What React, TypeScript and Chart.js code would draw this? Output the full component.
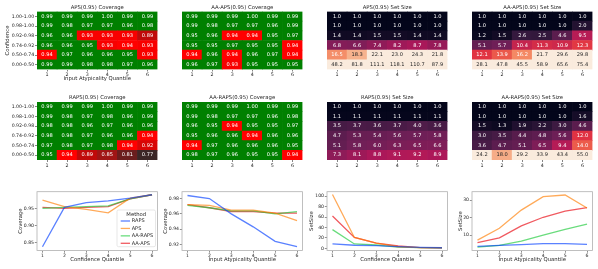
import React, { useEffect, useRef } from 'react';
import { Chart, registerables } from 'chart.js';

Chart.register(...registerables);

const CANVAS_W = 598;
const CANVAS_H = 269;
const FONT_FAMILY = "'DejaVu Sans', 'Liberation Sans', sans-serif";
const TEXT_DARK = '#262626';

// ---------------- data ----------------
const QUANTILE_LABELS = ['1', '2', '3', '4', '5', '6'];
const QUANTILES = [1, 2, 3, 4, 5, 6];
const CONFIDENCE_BINS = ['1.00-1.00', '0.98-1.00', '0.92-0.98', '0.74-0.92', '0.50-0.74', '0.00-0.50'];

// heatmaps: rows listed top to bottom (confidence bins), columns = atypicality quantile 1..6
const APS_COVERAGE = [
  [0.99, 0.99, 0.99, 1.0, 0.99, 0.99],
  [0.99, 0.98, 0.97, 0.97, 0.96, 0.98],
  [0.96, 0.96, 0.93, 0.93, 0.93, 0.89],
  [0.96, 0.96, 0.95, 0.93, 0.94, 0.93],
  [0.94, 0.97, 0.96, 0.96, 0.95, 0.93],
  [0.99, 0.99, 0.98, 0.98, 0.97, 0.96],
];
const AA_APS_COVERAGE = [
  [0.99, 0.99, 0.99, 1.0, 0.99, 0.99],
  [0.99, 0.98, 0.97, 0.97, 0.96, 0.99],
  [0.95, 0.96, 0.94, 0.94, 0.95, 0.97],
  [0.95, 0.95, 0.97, 0.95, 0.95, 0.94],
  [0.94, 0.96, 0.94, 0.96, 0.97, 0.94],
  [0.96, 0.97, 0.93, 0.95, 0.95, 0.95],
];
const APS_SET_SIZE = [
  [1.0, 1.0, 1.0, 1.0, 1.0, 1.0],
  [1.0, 1.0, 1.0, 1.0, 1.0, 1.0],
  [1.4, 1.4, 1.5, 1.5, 1.4, 1.4],
  [6.8, 6.6, 7.4, 8.2, 8.7, 7.8],
  [16.5, 18.3, 22.1, 23.0, 24.3, 21.8],
  [48.2, 81.8, 111.1, 118.1, 110.7, 87.9],
];
const AA_APS_SET_SIZE = [
  [1.0, 1.0, 1.0, 1.0, 1.0, 1.0],
  [1.0, 1.0, 1.0, 1.0, 1.0, 2.0],
  [1.2, 1.5, 2.6, 2.5, 4.6, 9.5],
  [5.1, 5.7, 10.4, 11.3, 10.9, 12.3],
  [12.1, 13.9, 16.2, 21.7, 29.6, 29.8],
  [28.1, 47.8, 45.5, 58.9, 65.6, 75.4],
];
const RAPS_COVERAGE = [
  [0.99, 0.99, 0.99, 1.0, 0.99, 0.99],
  [0.99, 0.98, 0.97, 0.98, 0.96, 0.99],
  [0.98, 0.98, 0.96, 0.97, 0.96, 0.96],
  [0.98, 0.98, 0.97, 0.96, 0.96, 0.94],
  [0.97, 0.98, 0.97, 0.98, 0.94, 0.92],
  [0.95, 0.94, 0.89, 0.85, 0.81, 0.77],
];
const AA_RAPS_COVERAGE = [
  [0.99, 0.99, 0.99, 1.0, 0.99, 0.99],
  [0.99, 0.98, 0.97, 0.97, 0.96, 0.98],
  [0.96, 0.95, 0.94, 0.95, 0.95, 0.97],
  [0.95, 0.96, 0.96, 0.94, 0.96, 0.96],
  [0.94, 0.97, 0.96, 0.96, 0.96, 0.95],
  [0.98, 0.97, 0.96, 0.95, 0.95, 0.94],
];
const RAPS_SET_SIZE = [
  [1.0, 1.0, 1.0, 1.0, 1.0, 1.0],
  [1.1, 1.1, 1.1, 1.1, 1.1, 1.1],
  [3.5, 3.7, 3.6, 3.7, 4.0, 3.6],
  [4.7, 5.3, 5.4, 5.6, 5.7, 5.8],
  [5.1, 5.8, 6.0, 6.3, 6.5, 6.6],
  [7.3, 8.1, 8.8, 9.1, 9.2, 8.9],
];
const AA_RAPS_SET_SIZE = [
  [1.0, 1.0, 1.0, 1.0, 1.0, 1.0],
  [1.0, 1.0, 1.0, 1.0, 1.0, 1.6],
  [1.5, 1.3, 1.9, 2.2, 3.0, 4.6],
  [3.0, 3.5, 4.4, 4.8, 5.6, 12.0],
  [3.6, 4.7, 5.1, 6.5, 9.4, 14.0],
  [24.2, 18.0, 29.2, 33.9, 43.4, 55.0],
];

// line plots (x = quantile 1..6)
const METHODS = ['RAPS', 'APS', 'AA-RAPS', 'AA-APS'];
const METHOD_COLORS = ['rgba(2,62,255,0.65)', 'rgba(255,124,0,0.65)', 'rgba(26,201,56,0.65)', 'rgba(232,0,11,0.65)'];

const COV_CONF_RAPS = [0.837, 0.953, 0.967, 0.972, 0.98, 0.99];
const COV_CONF_APS = [0.974, 0.955, 0.947, 0.937, 0.98, 0.99];
const COV_CONF_AA_RAPS = [0.95, 0.953, 0.955, 0.957, 0.978, 0.99];
const COV_CONF_AA_APS = [0.953, 0.95, 0.953, 0.955, 0.978, 0.99];

const COV_ATYP_RAPS = [0.984, 0.98, 0.96, 0.943, 0.924, 0.917];
const COV_ATYP_APS = [0.972, 0.971, 0.965, 0.965, 0.961, 0.951];
const COV_ATYP_AA_RAPS = [0.971, 0.968, 0.964, 0.964, 0.96, 0.963];
const COV_ATYP_AA_APS = [0.972, 0.968, 0.963, 0.963, 0.961, 0.961];

const SIZE_CONF_RAPS = [8.5, 6.0, 5.2, 3.3, 2.0, 1.3];
const SIZE_CONF_APS = [103, 21, 10, 3.2, 1.4, 1.3];
const SIZE_CONF_AA_RAPS = [36, 8.5, 6.5, 2.6, 1.5, 1.3];
const SIZE_CONF_AA_APS = [62, 21, 10, 4.6, 1.5, 1.3];

const SIZE_ATYP_RAPS = [3.5, 4.1, 4.5, 5.1, 5.1, 4.7];
const SIZE_ATYP_APS = [7.1, 13.9, 24.3, 32.0, 32.9, 25.5];
const SIZE_ATYP_AA_RAPS = [3.1, 4.1, 6.5, 10.0, 13.3, 16.3];
const SIZE_ATYP_AA_APS = [5.7, 8.4, 15.3, 20.2, 23.7, 25.7];

// ---------------- layout ----------------
const COL_LEFT = [37, 182, 327, 472];
const PANEL_W = 120.5;
const HEAT_TOP = [11.5, 102];
const HEAT_H = 58;
const LINE_TOP = 191.7;
const LINE_BOTTOM = 250.5;

// ---------------- colours ----------------
function hexToRgb(h: string) {
  return [1, 3, 5].map((i) => parseInt(h.slice(i, i + 2), 16));
}
function rgbToHex(c: number[]) {
  return '#' + c.map((v) => Math.round(Math.max(0, Math.min(255, v))).toString(16).padStart(2, '0')).join('');
}
function interpStops(stops: [number, string][], t: number) {
  if (t <= stops[0][0]) return stops[0][1];
  for (let i = 1; i < stops.length; i++) {
    if (t <= stops[i][0]) {
      const [t0, c0] = stops[i - 1];
      const [t1, c1] = stops[i];
      const f = (t - t0) / (t1 - t0);
      const a = hexToRgb(c0), b = hexToRgb(c1);
      return rgbToHex(a.map((v, k) => v + (b[k] - v) * f));
    }
  }
  return stops[stops.length - 1][1];
}
const ROCKET: [number, string][] = [
  [0.0, '#03051a'],
  [0.083, '#35193e'],
  [0.25, '#701f57'],
  [0.417, '#ad1759'],
  [0.583, '#e13342'],
  [0.75, '#f37651'],
  [0.917, '#f6b48f'],
  [1.0, '#faebdd'],
];
const RED_SCALE: [number, string][] = [
  [0.77, '#3b2626'],
  [0.81, '#6b1d1d'],
  [0.85, '#a01515'],
  [0.89, '#c00a0a'],
  [0.92, '#d80606'],
  [0.93, '#f80000'],
  [0.94, '#ff0000'],
];
function coverageColor(v: number) {
  if (v >= 0.95) return '#008000';
  return interpStops(RED_SCALE, v);
}
function sizeColor(v: number) {
  const t = Math.max(0, Math.min(1, (v - 1) / (20 - 1)));
  return interpStops(ROCKET, t);
}
function relLum(hex: string) {
  const c = hexToRgb(hex).map((v) => v / 255).map((v) => (v <= 0.03928 ? v / 12.92 : Math.pow((v + 0.055) / 1.055, 2.4)));
  return 0.2126 * c[0] + 0.7152 * c[1] + 0.0722 * c[2];
}

// ---------------- plugins ----------------
function panelTitlePlugin(text: string, size: number, offset: number) {
  return {
    id: 'panelTitle',
    afterDraw(chart: any) {
      const { ctx, chartArea } = chart;
      ctx.save();
      ctx.font = `${size}px ${FONT_FAMILY}`;
      ctx.fillStyle = TEXT_DARK;
      ctx.textAlign = 'center';
      ctx.textBaseline = 'middle';
      ctx.fillText(text, (chartArea.left + chartArea.right) / 2, chartArea.top - offset);
      ctx.restore();
    },
  };
}
function cellTextPlugin(size: number) {
  return {
    id: 'cellText',
    afterDatasetsDraw(chart: any) {
      const ctx = chart.ctx;
      ctx.save();
      ctx.font = `${size}px ${FONT_FAMILY}`;
      ctx.textAlign = 'center';
      ctx.textBaseline = 'middle';
      chart.data.datasets.forEach((ds: any, i: number) => {
        const meta = chart.getDatasetMeta(i);
        meta.data.forEach((bar: any, j: number) => {
          const p = bar.getProps(['x', 'y', 'base'], true);
          ctx.fillStyle = ds.textColors[j];
          ctx.fillText(ds.cellText[j], p.x, (p.y + p.base) / 2);
        });
      });
      ctx.restore();
    },
  };
}
const framePlugin = {
  id: 'frame',
  afterDatasetsDraw(chart: any) {
    const { ctx, chartArea: a } = chart;
    ctx.save();
    ctx.strokeStyle = '#b0b0b0';
    ctx.lineWidth = 0.8;
    ctx.strokeRect(a.left, a.top, a.right - a.left, a.bottom - a.top);
    ctx.restore();
  },
};
function methodLegendPlugin() {
  return {
    id: 'methodLegend',
    afterDraw(chart: any) {
      const { ctx, chartArea } = chart;
      const boxW = 38.5, boxH = 36.7;
      const right = chartArea.right - 2;
      const bottom = chartArea.bottom - 3.8;
      const left = right - boxW, top = bottom - boxH;
      ctx.save();
      ctx.beginPath();
      if ((ctx as any).roundRect) (ctx as any).roundRect(left, top, boxW, boxH, 1.5);
      else ctx.rect(left, top, boxW, boxH);
      ctx.fillStyle = 'rgba(255,255,255,0.85)';
      ctx.fill();
      ctx.strokeStyle = '#d6d6d6';
      ctx.lineWidth = 0.6;
      ctx.stroke();
      ctx.fillStyle = TEXT_DARK;
      ctx.font = `5.3px ${FONT_FAMILY}`;
      ctx.textAlign = 'center';
      ctx.textBaseline = 'middle';
      ctx.fillText('Method', left + boxW / 2, top + 4.3);
      ctx.textAlign = 'left';
      ctx.font = `5px ${FONT_FAMILY}`;
      chart.data.datasets.forEach((ds: any, i: number) => {
        const y = top + 11 + i * 7.43;
        ctx.strokeStyle = ds.borderColor;
        ctx.lineWidth = 1.3;
        ctx.beginPath();
        ctx.moveTo(left + 3.7, y);
        ctx.lineTo(left + 13, y);
        ctx.stroke();
        ctx.fillStyle = TEXT_DARK;
        ctx.fillText(ds.label, left + 14.7, y);
      });
      ctx.restore();
    },
  };
}

// ---------------- chart specs ----------------
type HeatSpec = { title: string; values: number[][]; kind: 'cov' | 'size'; col: number; row: number };
const HEATMAPS: HeatSpec[] = [
  { title: 'APS(0.95) Coverage', values: APS_COVERAGE, kind: 'cov', col: 0, row: 0 },
  { title: 'AA-APS(0.95) Coverage', values: AA_APS_COVERAGE, kind: 'cov', col: 1, row: 0 },
  { title: 'APS(0.95) Set Size', values: APS_SET_SIZE, kind: 'size', col: 2, row: 0 },
  { title: 'AA-APS(0.95) Set Size', values: AA_APS_SET_SIZE, kind: 'size', col: 3, row: 0 },
  { title: 'RAPS(0.95) Coverage', values: RAPS_COVERAGE, kind: 'cov', col: 0, row: 1 },
  { title: 'AA-RAPS(0.95) Coverage', values: AA_RAPS_COVERAGE, kind: 'cov', col: 1, row: 1 },
  { title: 'RAPS(0.95) Set Size', values: RAPS_SET_SIZE, kind: 'size', col: 2, row: 1 },
  { title: 'AA-RAPS(0.95) Set Size', values: AA_RAPS_SET_SIZE, kind: 'size', col: 3, row: 1 },
];

type LineSpec = {
  col: number; xTitle: string; yTitle: string; yMin: number; yMax: number; yTicks: number[];
  decimals: number; yTitlePad: number; legend: boolean; series: number[][];
};
const LINE_PLOTS: LineSpec[] = [
  { col: 0, xTitle: 'Confidence Quantile', yTitle: 'Coverage', yMin: 0.826, yMax: 0.999, yTicks: [0.85, 0.9, 0.95], decimals: 2, yTitlePad: 2, legend: true,
    series: [COV_CONF_RAPS, COV_CONF_APS, COV_CONF_AA_RAPS, COV_CONF_AA_APS] },
  { col: 1, xTitle: 'Input Atypicality Quantile', yTitle: 'Coverage', yMin: 0.912, yMax: 0.989, yTicks: [0.92, 0.94, 0.96, 0.98], decimals: 2, yTitlePad: 2, legend: false,
    series: [COV_ATYP_RAPS, COV_ATYP_APS, COV_ATYP_AA_RAPS, COV_ATYP_AA_APS] },
  { col: 2, xTitle: 'Confidence Quantile', yTitle: 'SetSize', yMin: -4, yMax: 108.5, yTicks: [0, 20, 40, 60, 80, 100], decimals: 0, yTitlePad: 3.8, legend: false,
    series: [SIZE_CONF_RAPS, SIZE_CONF_APS, SIZE_CONF_AA_RAPS, SIZE_CONF_AA_APS] },
  { col: 3, xTitle: 'Input Atypicality Quantile', yTitle: 'SetSize', yMin: 1.2, yMax: 34.8, yTicks: [10, 20, 30], decimals: 0, yTitlePad: 7, legend: false,
    series: [SIZE_ATYP_RAPS, SIZE_ATYP_APS, SIZE_ATYP_AA_RAPS, SIZE_ATYP_AA_APS] },
];

const tickFont = (size: number) => ({ family: FONT_FAMILY, size });

function makeHeatmapConfig(spec: HeatSpec): any {
  const L = COL_LEFT[spec.col];
  const T = HEAT_TOP[spec.row];
  const showY = spec.col === 0;
  const showYTitle = spec.col === 0 && spec.row === 0;
  const showXTitle = spec.col === 0 && spec.row === 0;
  const Y_W = showY ? 35 : 0;
  const X_H = 13;
  const rowsBottomUp = spec.values.slice().reverse();
  const datasets = rowsBottomUp.map((rowVals) => {
    const colors = rowVals.map((v) => (spec.kind === 'cov' ? coverageColor(v) : sizeColor(v)));
    return {
      data: rowVals.map(() => 1),
      backgroundColor: colors,
      borderWidth: 0,
      barPercentage: 1,
      categoryPercentage: 1,
      cellText: rowVals.map((v) => (spec.kind === 'cov' ? v.toFixed(2) : v.toFixed(1))),
      textColors: colors.map((c) => (relLum(c) > 0.408 ? TEXT_DARK : '#ffffff')),
    };
  });
  return {
    type: 'bar',
    data: { labels: QUANTILE_LABELS, datasets },
    options: {
      responsive: false,
      animation: false,
      events: [],
      layout: {
        padding: {
          left: L - Y_W,
          right: CANVAS_W - (L + PANEL_W),
          top: T,
          bottom: CANVAS_H - (T + HEAT_H) - X_H,
        },
      },
      plugins: { legend: { display: false }, tooltip: { enabled: false }, title: { display: false } },
      scales: {
        x: {
          stacked: true,
          grid: { display: true, offset: false, drawOnChartArea: false, drawTicks: true, tickLength: 2, tickColor: '#333', tickWidth: 0.6 },
          border: { display: false },
          ticks: { font: tickFont(4.8), color: TEXT_DARK, padding: 0.5, maxRotation: 0, autoSkip: false },
          title: { display: showXTitle, text: 'Input Atypicality Quantile', font: tickFont(5.3), color: TEXT_DARK, padding: { top: 0, bottom: 0.3 } },
          afterFit: (s: any) => { s.height = X_H; },
        },
        y: {
          display: showY,
          stacked: true,
          min: 0,
          max: 6,
          afterBuildTicks: (s: any) => { s.ticks = CONFIDENCE_BINS.map((_, i) => ({ value: i + 0.5 })); },
          grid: { display: true, drawOnChartArea: false, drawTicks: true, tickLength: 2, tickColor: '#333', tickWidth: 0.6 },
          border: { display: false },
          ticks: { font: tickFont(4.7), color: TEXT_DARK, padding: 0.8, autoSkip: false, callback: (_v: any, i: number) => CONFIDENCE_BINS[CONFIDENCE_BINS.length - 1 - i] },
          title: { display: showYTitle, text: 'Confidence', font: tickFont(5.3), color: TEXT_DARK, padding: { top: 2, bottom: 0 } },
          afterFit: (s: any) => { s.width = Y_W; },
        },
      },
    },
    plugins: [cellTextPlugin(5.1), panelTitlePlugin(spec.title, 5.3, 4.2)],
  };
}

function makeLineConfig(spec: LineSpec): any {
  const L = COL_LEFT[spec.col];
  const Y_W = 22;
  const X_H = 13.5;
  const datasets = spec.series.map((vals, i) => ({
    label: METHODS[i],
    data: QUANTILES.map((q, k) => ({ x: q, y: vals[k] })),
    borderColor: METHOD_COLORS[i],
    backgroundColor: METHOD_COLORS[i],
    borderWidth: 1.3,
    pointRadius: 0,
    tension: 0,
    fill: false,
  }));
  const plugins: any[] = [framePlugin];
  if (spec.legend) plugins.push(methodLegendPlugin());
  return {
    type: 'line',
    data: { datasets },
    options: {
      responsive: false,
      animation: false,
      events: [],
      layout: {
        padding: {
          left: L - Y_W,
          right: CANVAS_W - (L + PANEL_W),
          top: LINE_TOP,
          bottom: CANVAS_H - LINE_BOTTOM - X_H,
        },
      },
      plugins: { legend: { display: false }, tooltip: { enabled: false }, title: { display: false } },
      scales: {
        x: {
          type: 'linear',
          min: 0.75,
          max: 6.25,
          afterBuildTicks: (s: any) => { s.ticks = QUANTILES.map((q) => ({ value: q })); },
          grid: { display: true, drawOnChartArea: false, drawTicks: true, tickLength: 2.2, tickColor: '#444', tickWidth: 0.6 },
          border: { display: false },
          ticks: { font: tickFont(4.6), color: TEXT_DARK, padding: 0.8, maxRotation: 0, autoSkip: false, callback: (v: any) => String(v) },
          title: { display: true, text: spec.xTitle, font: tickFont(5.3), color: TEXT_DARK, padding: { top: 0, bottom: 0.8 } },
          afterFit: (s: any) => { s.height = X_H; },
        },
        y: {
          type: 'linear',
          min: spec.yMin,
          max: spec.yMax,
          afterBuildTicks: (s: any) => { s.ticks = spec.yTicks.map((v) => ({ value: v })); },
          grid: { display: true, drawOnChartArea: false, drawTicks: true, tickLength: 2.2, tickColor: '#444', tickWidth: 0.6 },
          border: { display: false },
          ticks: { font: tickFont(4.6), color: TEXT_DARK, padding: 0.8, autoSkip: false, callback: (v: any) => Number(v).toFixed(spec.decimals) },
          title: { display: true, text: spec.yTitle, font: tickFont(5.3), color: TEXT_DARK, padding: { top: spec.yTitlePad, bottom: 0 } },
          afterFit: (s: any) => { s.width = Y_W; },
        },
      },
    },
    plugins,
  };
}

export default function App() {
  const refs = useRef<(HTMLCanvasElement | null)[]>([]);
  const total = HEATMAPS.length + LINE_PLOTS.length;

  useEffect(() => {
    document.body.style.margin = '0';
    const configs = [...HEATMAPS.map(makeHeatmapConfig), ...LINE_PLOTS.map(makeLineConfig)];
    const charts = configs.map((cfg, i) => new Chart(refs.current[i] as HTMLCanvasElement, cfg));
    return () => charts.forEach((c) => c.destroy());
  }, []);

  return (
    <div style={{ position: 'fixed', left: 0, top: 0, width: CANVAS_W, height: CANVAS_H, background: '#ffffff' }}>
      {Array.from({ length: total }).map((_, i) => (
        <canvas
          key={i}
          ref={(el) => { refs.current[i] = el; }}
          width={CANVAS_W}
          height={CANVAS_H}
          style={{ position: 'absolute', left: 0, top: 0, width: CANVAS_W, height: CANVAS_H }}
        />
      ))}
    </div>
  );
}
